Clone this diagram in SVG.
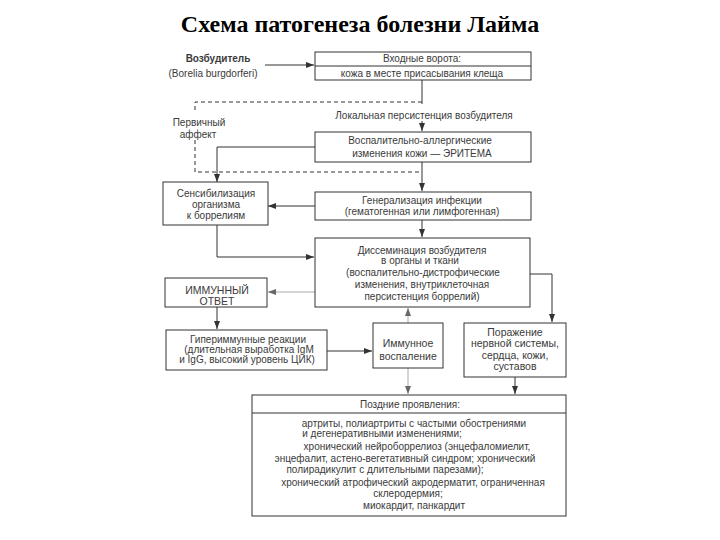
<svg xmlns="http://www.w3.org/2000/svg" width="720" height="540" viewBox="0 0 720 540">
<style>
.box{fill:#fff;stroke:#333;stroke-width:1}
.t{font-family:"Liberation Sans",Arial,sans-serif;font-size:10px;fill:#3a3a3a;text-anchor:middle}
.b{font-weight:bold}
.big{font-size:10.5px}
.title{font-family:"Liberation Serif","Times New Roman",serif;font-size:24px;font-weight:bold;fill:#000;text-anchor:middle}
.c{fill:none;stroke:#333;stroke-width:1}
.d{stroke-dasharray:4 3}
.g{stroke:#aaa}
</style>
<defs>
<marker id="ah" markerUnits="userSpaceOnUse" markerWidth="8" markerHeight="8" viewBox="0 0 8 8" refX="8" refY="4" orient="auto">
<path d="M0,1 L8,4 L0,7 Z" fill="#333"/>
</marker>
<marker id="ahg" markerUnits="userSpaceOnUse" markerWidth="8" markerHeight="8" viewBox="0 0 8 8" refX="8" refY="4" orient="auto-start-reverse">
<path d="M0,1 L8,4 L0,7 Z" fill="#666"/>
</marker>
</defs>
<rect width="720" height="540" fill="#fff"/>
<text class="title" x="360" y="32">Схема патогенеза болезни Лайма</text>

<g id="connectors">
<path class="c" d="M265,65 H314" marker-end="url(#ah)"/>
<path class="c" d="M422,80 V104"/>
<path class="c" d="M422,121 V131" marker-end="url(#ah)"/>
<path class="c d" d="M422,102 H195 V113 M195,140 V172 H422"/>
<path class="c" d="M422,162 V191" marker-end="url(#ah)"/>
<path class="c" d="M315,147 H217 V182" marker-end="url(#ah)"/>
<path class="c" d="M315,206 H268" marker-end="url(#ah)"/>
<path class="c" d="M422,220 V237" marker-end="url(#ah)"/>
<path class="c" d="M217,225 V257 H314" marker-end="url(#ah)"/>
<path class="c g" d="M315,292 H268" marker-end="url(#ahg)"/>
<path class="c" d="M530,274 H552 V322" marker-end="url(#ah)"/>
<path class="c" d="M217,307 V329" marker-end="url(#ah)"/>
<path class="c" d="M327,351 H372" marker-end="url(#ah)"/>
<path class="c g" d="M408,308 V394" marker-start="url(#ahg)" marker-end="url(#ahg)"/>
<path class="c" d="M515,377 V394" marker-end="url(#ah)"/>
</g>

<g id="pathogen">
<text class="t b" x="218" y="61.5">Возбудитель</text>
<text class="t" x="213" y="76.5">(Borelia burgdorferi)</text>
</g>

<g id="entry">
<rect class="box" x="315" y="52" width="216" height="28"/>
<line class="c" x1="315" y1="66" x2="531" y2="66"/>
<text class="t" x="422" y="62">Входные ворота:</text>
<text class="t" x="422" y="76.5">кожа в месте присасывания клеща</text>
</g>

<g id="local">
<text class="t" x="424" y="118.5">Локальная персистенция возбудителя</text>
</g>

<g id="primary">
<text class="t" x="199" y="125.5">Первичный</text>
<text class="t" x="198" y="137.5">аффект</text>
</g>

<g id="erythema">
<rect class="box" x="315" y="132" width="216" height="30"/>
<text class="t" x="420" y="143.5">Воспалительно-аллергические</text>
<text class="t" x="422" y="156.5">изменения кожи — ЭРИТЕМА</text>
</g>

<g id="generalization">
<rect class="box" x="315" y="192" width="216" height="28"/>
<text class="t" x="422" y="203.5">Генерализация инфекции</text>
<text class="t" x="422" y="214.5">(гематогенная или лимфогенная)</text>
</g>

<g id="sensitization">
<rect class="box" x="163" y="182" width="105" height="43"/>
<text class="t" x="216" y="196.5">Сенсибилизация</text>
<text class="t" x="216" y="207.5">организма</text>
<text class="t" x="216" y="218.5">к боррелиям</text>
</g>

<g id="dissemination">
<rect class="box" x="315" y="238" width="215" height="69"/>
<text class="t" x="422" y="253.5">Диссеминация возбудителя</text>
<text class="t" x="420" y="264">в органы и ткани</text>
<text class="t" x="423" y="275.5">(воспалительно-дистрофические</text>
<text class="t" x="422" y="287.5">изменения, внутриклеточная</text>
<text class="t" x="422" y="299.5">персистенция боррелий)</text>
</g>

<g id="immune-response">
<rect class="box" x="165" y="278" width="102" height="29"/>
<text class="t big" x="217" y="294">ИММУННЫЙ</text>
<text class="t big" x="217" y="304.5">ОТВЕТ</text>
</g>

<g id="hyperimmune">
<rect class="box" x="166" y="330" width="161" height="40"/>
<text class="t" x="248" y="342.5">Гипериммунные реакции</text>
<text class="t" x="249" y="352.5">(длительная выработка IgM</text>
<text class="t" x="247" y="362.5">и IgG, высокий уровень ЦИК)</text>
</g>

<g id="immune-inflammation">
<rect class="box" x="373" y="323" width="70" height="45"/>
<text class="t big" x="408" y="346.5">Иммунное</text>
<text class="t big" x="408" y="359.5">воспаление</text>
</g>

<g id="lesion">
<rect class="box" x="464" y="323" width="102" height="54"/>
<text class="t big" x="515" y="335.5">Поражение</text>
<text class="t big" x="515" y="347">нервной системы,</text>
<text class="t big" x="515" y="358.5">сердца, кожи,</text>
<text class="t big" x="515" y="370">суставов</text>
</g>

<g id="late">
<rect class="box" x="252" y="395" width="314" height="121"/>
<line class="c" x1="252" y1="413" x2="566" y2="413"/>
<text class="t" x="410" y="407.5">Поздние проявления:</text>
<text class="t" x="414" y="426.5">артриты, полиартриты с частыми обострениями</text>
<text class="t" x="382" y="437">и дегенеративными изменениями;</text>
<text class="t" x="417" y="449.5">хронический нейроборрелиоз (энцефаломиелит,</text>
<text class="t" x="405" y="461.5">энцефалит, астено-вегетативный синдром; хронический</text>
<text class="t" x="385" y="472.5">полирадикулит с длительными парезами);</text>
<text class="t" x="413" y="485.5">хронический атрофический акродерматит, ограниченная</text>
<text class="t" x="408" y="496.5">склеродермия;</text>
<text class="t" x="414" y="508.5">миокардит, панкардит</text>
</g>
</svg>
